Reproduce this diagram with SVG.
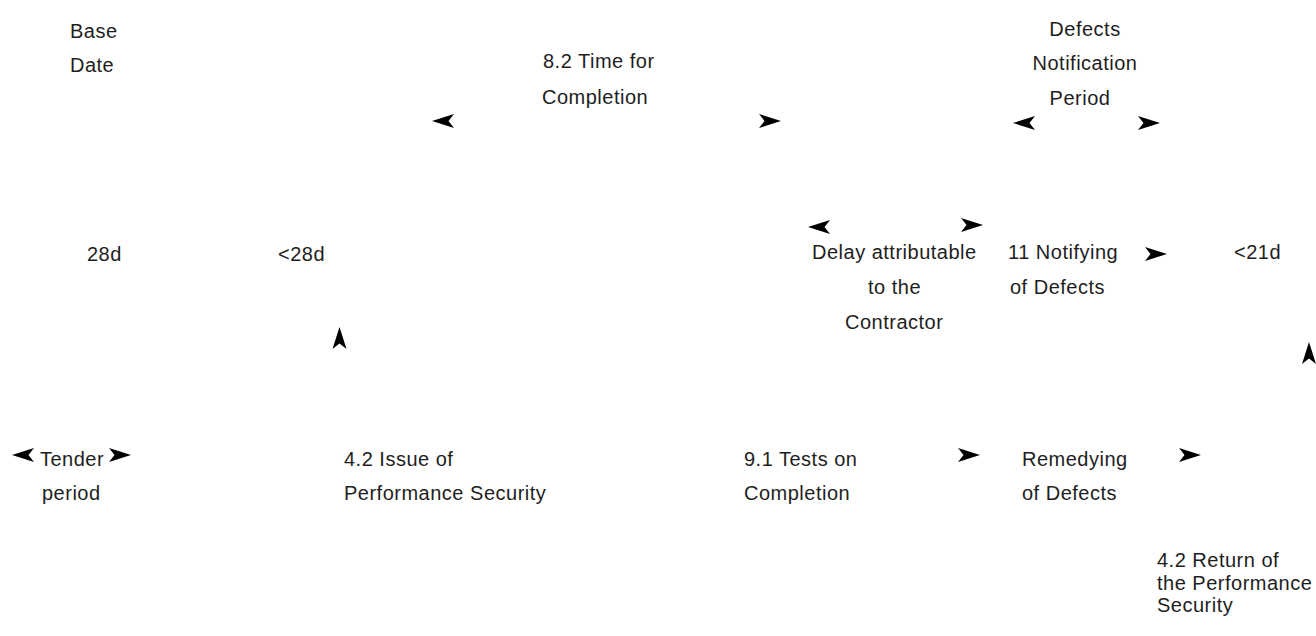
<svg xmlns="http://www.w3.org/2000/svg" xmlns:xlink="http://www.w3.org/1999/xlink" width="1316" height="636" viewBox="0 0 1316 636">
<style>
text { font-family: "Liberation Sans", Arial, sans-serif; font-size: 20px; letter-spacing: 0.5px; fill: #1e1e1e; }
.mid { text-anchor: middle; }
.ah { fill: #000; }
</style>
<defs>
<path id="arr" class="ah" d="M0,0 L-22,-7 L-16.5,0 L-22,7 Z"/>
</defs>
<rect width="1316" height="636" fill="#fff"/>
<g id="base-date"><text x="70" y="38">Base</text><text x="70" y="72">Date</text></g>
<g id="time-for-completion"><text x="543" y="68">8.2 Time for</text><text x="542" y="104">Completion</text></g>
<g id="defects-notification-period"><text class="mid" x="1085" y="36">Defects</text><text class="mid" x="1085" y="70">Notification</text><text class="mid" x="1080" y="105">Period</text></g>
<g id="d28"><text x="87" y="261">28d</text></g>
<g id="lt28d"><text x="278" y="261">&lt;28d</text></g>
<g id="delay"><text x="812" y="259">Delay attributable</text><text x="868" y="294">to the</text><text x="845" y="329">Contractor</text></g>
<g id="notifying"><text x="1008" y="259">11 Notifying</text><text x="1010" y="294">of Defects</text></g>
<g id="lt21d"><text x="1234" y="259">&lt;21d</text></g>
<g id="tender"><text class="mid" x="72" y="466">Tender</text><text x="42" y="500">period</text></g>
<g id="issue-ps"><text x="344" y="466">4.2 Issue of</text><text x="344" y="500">Performance Security</text></g>
<g id="tests"><text x="744" y="466">9.1 Tests on</text><text x="744" y="500">Completion</text></g>
<g id="remedying"><text x="1022" y="466">Remedying</text><text x="1022" y="500">of Defects</text></g>
<g id="return-ps"><text x="1157" y="567">4.2 Return of</text><text x="1157" y="590" letter-spacing="0.2">the Performance</text><text x="1157" y="612">Security</text></g>
<g id="connectors">
<use xlink:href="#arr" transform="translate(432,121) scale(-1,1)"/>
<use xlink:href="#arr" transform="translate(781,121)"/>
<use xlink:href="#arr" transform="translate(1013,123) scale(-1,1)"/>
<use xlink:href="#arr" transform="translate(1160,123)"/>
<use xlink:href="#arr" transform="translate(808,227) scale(-1,1)"/>
<use xlink:href="#arr" transform="translate(983,225)"/>
<use xlink:href="#arr" transform="translate(1167,254)"/>
<use xlink:href="#arr" transform="translate(339.5,327) rotate(-90)"/>
<use xlink:href="#arr" transform="translate(1309,342) rotate(-90)"/>
<use xlink:href="#arr" transform="translate(12,455) scale(-1,1)"/>
<use xlink:href="#arr" transform="translate(131,455)"/>
<use xlink:href="#arr" transform="translate(980,455)"/>
<use xlink:href="#arr" transform="translate(1201,455)"/>
</g>
</svg>
